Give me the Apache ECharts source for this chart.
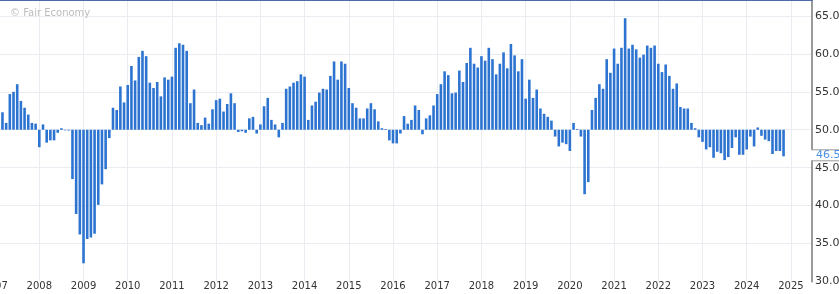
<!DOCTYPE html>
<html><head><meta charset="utf-8">
<script src="https://cdn.jsdelivr.net/npm/echarts@6/dist/echarts.min.js"></script>
<style>html,body{margin:0;padding:0;background:#fff;overflow:hidden}#c{width:839px;height:294px}</style>
</head><body><div id="c"></div>
<script>
// Monthly values (index 0 = January of the data year); each bar is plotted at its release month (the month after)
const dataYears = [2007,2008,2009,2010,2011,2012,2013,2014,2015,2016,2017,2018,2019,2020,2021,2022,2023,2024];
const pmi2007 = [null,52.3,50.9,54.7,55.0,56.0,53.8,52.9,52.0,50.9,50.8,47.7];
const pmi2008 = [50.7,48.3,48.6,48.6,49.6,50.2,50.0,49.9,43.5,38.9,36.2,32.4];
const pmi2009 = [35.6,35.8,36.3,40.1,42.8,44.8,48.9,52.9,52.6,55.7,53.6,55.9];
const pmi2010 = [58.4,56.5,59.6,60.4,59.7,56.2,55.5,56.3,54.4,56.9,56.6,57.0];
const pmi2011 = [60.8,61.4,61.2,60.4,53.5,55.3,50.9,50.6,51.6,50.8,52.7,53.9];
const pmi2012 = [54.1,52.4,53.4,54.8,53.5,49.7,49.8,49.6,51.5,51.7,49.5,50.7];
const pmi2013 = [53.1,54.2,51.3,50.7,49.0,50.9,55.4,55.7,56.2,56.4,57.3,57.0];
const pmi2014 = [51.3,53.2,53.7,54.9,55.4,55.3,57.1,59.0,56.6,59.0,58.7,55.5];
const pmi2015 = [53.5,52.9,51.5,51.5,52.8,53.5,52.7,51.1,50.2,50.1,48.6,48.2];
const pmi2016 = [48.2,49.5,51.8,50.8,51.3,53.2,52.6,49.4,51.5,51.9,53.2,54.7];
const pmi2017 = [56.0,57.7,57.2,54.8,54.9,57.8,56.3,58.8,60.8,58.7,58.2,59.7];
const pmi2018 = [59.1,60.8,59.3,57.3,58.7,60.2,58.1,61.3,59.8,57.7,59.3,54.1];
const pmi2019 = [56.6,54.2,55.3,52.8,52.1,51.7,51.2,49.1,47.8,48.3,48.1,47.2];
const pmi2020 = [50.9,50.1,49.1,41.5,43.1,52.6,54.2,56.0,55.4,59.3,57.5,60.7];
const pmi2021 = [58.7,60.8,64.7,60.7,61.2,60.6,59.5,59.9,61.1,60.8,61.1,58.7];
const pmi2022 = [57.6,58.6,57.1,55.4,56.1,53.0,52.8,52.8,50.9,50.2,49.0,48.4];
const pmi2023 = [47.4,47.7,46.3,47.1,46.9,46.0,46.4,47.6,49.0,46.7,46.7,47.4];
const pmi2024 = [49.1,47.8,50.3,49.2,48.7,48.5,46.8,47.2,47.2,46.5];
const baseline = 50;
const yMin = 30, yMax = 67.1, yStep = 5;
const xMin = 2007, xStep = 1;

const rows = [pmi2007,pmi2008,pmi2009,pmi2010,pmi2011,pmi2012,pmi2013,pmi2014,pmi2015,pmi2016,pmi2017,pmi2018,pmi2019,pmi2020,pmi2021,pmi2022,pmi2023,pmi2024];
const points = [];
dataYears.forEach((yr, i) => rows[i].forEach((v, m) => { if (v != null) points.push([yr + (m + 1) / 12, v]); }));
const lastIdx = points.length - 1;

const FONT = 'DejaVu Sans';
const pxPerYear = 44.2125;
const gridLeft = -4.9, gridRight = 27;
const xMax = xMin + (839 - gridLeft - gridRight) / pxPerYear;

const chart = echarts.init(document.getElementById('c'), null, {renderer: 'canvas'});
chart.setOption({
  animation: false,
  backgroundColor: '#fff',
  grid: {left: gridLeft, right: gridRight, top: 0, bottom: 12.5, containLabel: false, outerBoundsMode: 'none'},
  graphic: [{type: 'text', left: 10, top: 8, z: 10,
    style: {text: '© Fair Economy', fill: '#bdbdbd', font: '10px "DejaVu Sans"'}}],
  xAxis: [{
    type: 'value', min: xMin, max: xMax, interval: xStep,
    axisLine: {show: false}, axisTick: {show: false},
    splitLine: {show: true, showMinLine: false, showMaxLine: false, lineStyle: {color: '#e9ecf1', width: 1}},
    axisLabel: {showMaxLabel: false, hideOverlap: false, fontFamily: FONT, fontSize: 10, color: '#333', margin: 0,
      formatter: v => String(Math.round(v))}
  }, {
    type: 'value', position: 'top', min: xMin, max: xMax,
    axisLine: {show: true, lineStyle: {color: '#4c6ca9', width: 2}},
    axisTick: {show: false}, axisLabel: {show: false}, splitLine: {show: false}
  }],
  yAxis: {
    type: 'value', position: 'right', min: yMin, max: yMax, interval: yStep,
    axisLine: {show: true, lineStyle: {color: '#9a9a9a', width: 2}},
    axisTick: {show: false},
    splitLine: {show: true, showMinLine: false, showMaxLine: false, lineStyle: {color: '#e9ecf1', width: 1}},
    axisLabel: {showMaxLabel: false, fontFamily: FONT, fontSize: 11, color: '#333', margin: 3,
      formatter: v => v.toFixed(1)}
  },
  series: [{
    type: 'custom',
    xAxisIndex: 0,
    data: points,
    renderItem: function (params, api) {
      const x = api.value(0), v = api.value(1);
      const p0 = api.coord([x, baseline]);
      const p1 = api.coord([x, v]);
      const w = 2.6;
      const bar = {type: 'rect',
        shape: {x: p0[0] - w / 2, y: Math.min(p0[1], p1[1]), width: w, height: Math.max(Math.abs(p1[1] - p0[1]), 0.6)},
        style: {fill: '#2d74d1'}};
      if (params.dataIndex !== lastIdx) return bar;
      const cs = params.coordSys;
      const ax = cs.x + cs.width;
      const cy = p1[1] - 1;
      return {type: 'group', children: [
        bar,
        {type: 'rect', z2: 50, shape: {x: ax - 1.5, y: cy - 5.5, width: 839 - ax + 2, height: 11}, style: {fill: '#fff'}},
        {type: 'line', z2: 51, shape: {x1: ax - 1, y1: cy - 5.5, x2: 839, y2: cy - 5.5}, style: {stroke: '#9a9a9a', lineWidth: 1}},
        {type: 'line', z2: 51, shape: {x1: ax - 1, y1: cy + 5.5, x2: 839, y2: cy + 5.5}, style: {stroke: '#9a9a9a', lineWidth: 1}},
        {type: 'text', z2: 52, x: ax + 4, y: cy, style: {text: v.toFixed(1), fill: '#4a90e2', font: '11px "DejaVu Sans"', verticalAlign: 'middle', align: 'left'}}
      ]};
    }
  }]
});
</script></body></html>
